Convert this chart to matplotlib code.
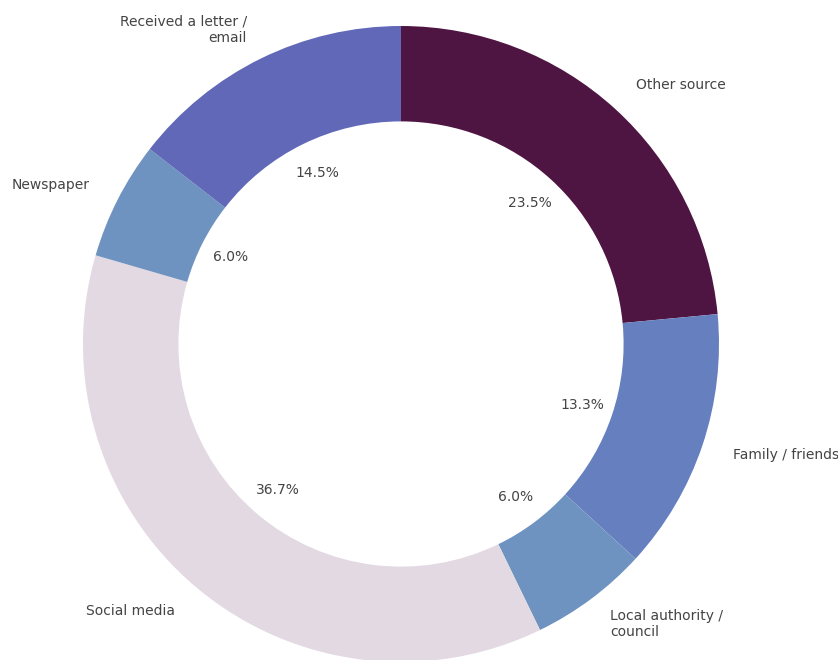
import matplotlib.pyplot as plt

# ==================================================
# Data
# ==================================================

labels = [
    "Other source",
    "Family / friends",
    "Local authority /\ncouncil",
    "Social media",
    "Newspaper",
    "Received a letter /\nemail",
]
shares = [23.5, 13.3, 6.0, 36.7, 6.0, 14.5]
colors = ["#4f1542", "#667fbf", "#6f93c0", "#e2d9e2", "#6f93c0", "#6068b7"]

# ==================================================
# Figure
# ==================================================

fig = plt.figure(figsize=(8.38, 6.6), dpi=100)
ax = fig.add_axes([0, 0, 1, 1])

wedges, texts, autotexts = ax.pie(
    shares,
    labels=labels,
    colors=colors,
    startangle=90,
    counterclock=False,
    autopct="%1.1f%%",
    pctdistance=0.6,
    labeldistance=1.1,
    wedgeprops={"width": 0.3},
    textprops={"color": "#444444", "fontsize": 10},
)

# one data unit = 318 px, centre at (401, 344) from top-left
scale = 318.0
cx, cy = 401.0, 344.0
ax.set_xlim(-cx / scale, (838 - cx) / scale)
ax.set_ylim(-(660 - cy) / scale, cy / scale)
ax.set_aspect("auto")
ax.set_axis_off()

fig.savefig("out.png", dpi=100)
